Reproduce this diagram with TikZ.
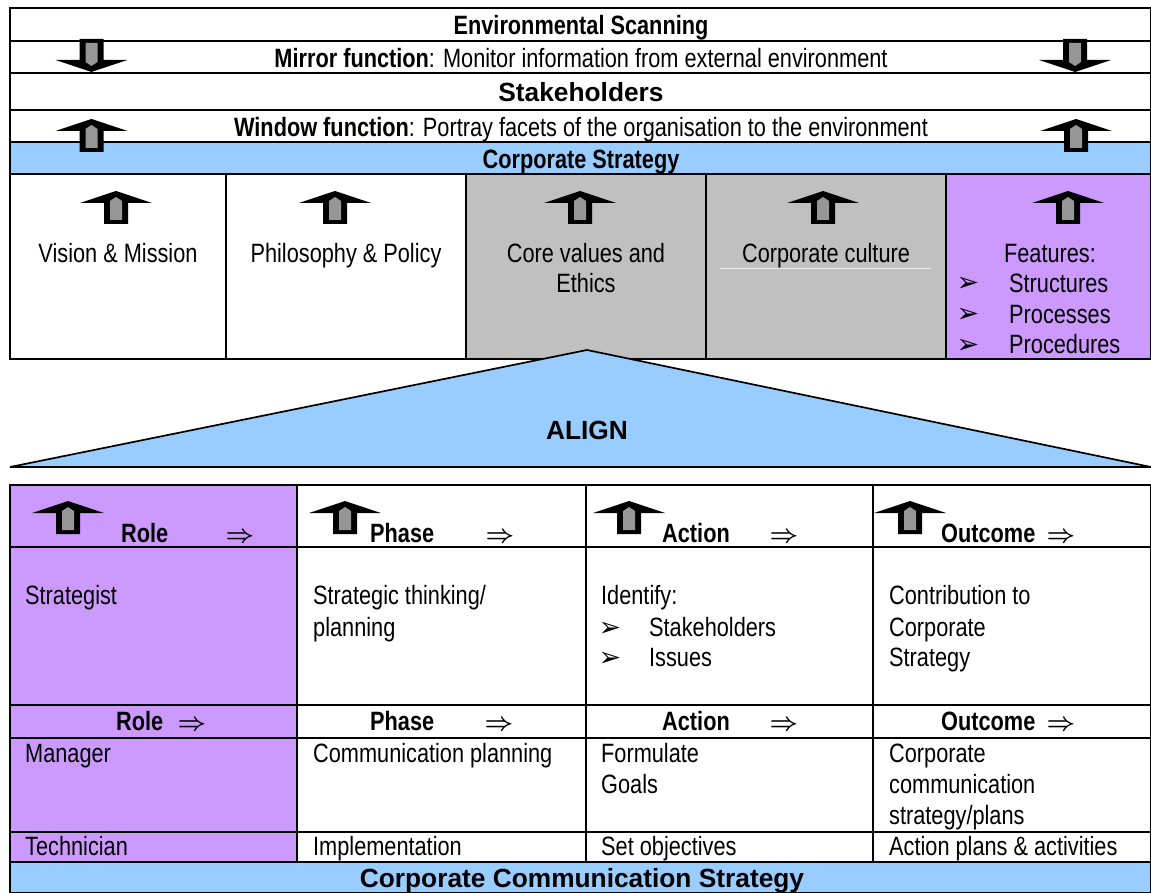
\documentclass[tikz,border=0pt]{standalone}
\usepackage{fontspec}
\setmainfont{Liberation Sans}[FakeStretch=0.82]
\newfontfamily\widefont{Liberation Sans}
\newfontfamily\dejavu{DejaVu Sans}
\definecolor{cpurple}{HTML}{CC99FF}
\definecolor{cblue}{HTML}{99CCFF}
\definecolor{cgray}{HTML}{C0C0C0}
\definecolor{agray}{HTML}{969696}
\newcommand\bulmark{{\dejavu\fontsize{27}{27}\selectfont ➢}}
\tikzset{
  cellline/.style={draw=black, line width=1.7pt},
  tx/.style={inner sep=0pt, font=\fontsize{26.5}{31}\selectfont, anchor=base west},
  tc/.style={tx, anchor=base},
  tb/.style={tx, font=\bfseries\fontsize{26.5}{31}\selectfont},
  tbc/.style={tb, anchor=base},
  hb/.style={inner sep=0pt, anchor=base, font=\widefont\bfseries\fontsize{26.3}{31}\selectfont},
  bul/.style={inner sep=0pt, anchor=base},
  rarr/.style={inner sep=0pt, anchor=base, font=\fontsize{29}{31}\selectfont\boldmath},
  pics/uparr/.style={code={
    \fill[black] (0,0) -- (36,12) -- (12,12) -- (12,33) -- (-12,33) -- (-12,12) -- (-36,12) -- cycle;
    \fill[agray] (-6,10) -- (0,6) -- (6,10) -- (6,29) -- (-6,29) -- cycle;
  }},
}
\begin{document}
\begin{tikzpicture}[x=1pt,y=-1pt]
\useasboundingbox (0,0) rectangle (1151,893);
\fill[white] (0,0) rectangle (1151,893);

% ---------- top table ----------
\fill[cblue] (10,142) rectangle (1151,174);
\fill[cgray] (466,174) rectangle (946,359);
\fill[cpurple] (946,174) rectangle (1151,359);
\draw[cellline] (10,8) rectangle (1151,359);
\foreach \yy in {41,73,110,142,174}
  \draw[cellline] (10,\yy) -- (1151,\yy);
\foreach \xx in {226,466,706,946}
  \draw[cellline] (\xx,174) -- (\xx,359);
\draw[white!92!black, line width=0.8pt] (720,268) -- (931,268);

\node[tbc] (env) at (581,34.5) {Environmental Scanning};
\node[tc] (mirror) at (581,67.5) {\textbf{Mirror function}: Monitor information from external environment};
\node[hb] (stake) at (581,101.5) {Stakeholders};
\node[tc] (window) at (581,136.5) {\textbf{Window function}: Portray facets of the organisation to the environment};
\node[tbc] (cstrat) at (581,168.5) {Corporate Strategy};

\pic[yscale=-1] at (91.5,72) {uparr};
\pic[yscale=-1] at (1075,72) {uparr};
\pic at (91.5,119) {uparr};
\pic at (1076,119) {uparr};

\foreach \xx in {116,335,580,823,1068}
  \pic at (\xx,191) {uparr};

\node[tc] (vm) at (118,262.5) {Vision \& Mission};
\node[tc] (pp) at (346,262.5) {Philosophy \& Policy};
\node[tc] (cv1) at (586,262.5) {Core values and};
\node[tc] (cv2) at (586,292.5) {Ethics};
\node[tc] (cc) at (826,262.5) {Corporate culture};
\node[tc] (feat) at (1050,262.5) {Features:};
\node[bul] (fb1) at (968,292) {\bulmark};
\node[bul] (fb2) at (968,323) {\bulmark};
\node[bul] (fb3) at (968,353) {\bulmark};
\node[tx] (f1) at (1009,292.5) {Structures};
\node[tx] (f2) at (1009,323.5) {Processes};
\node[tx] (f3) at (1009,353.5) {Procedures};

% ---------- align triangle ----------
\draw[cellline, fill=cblue] (10,467) -- (587,350) -- (1151,467) -- cycle;
\node[hb] (align) at (587,439.5) {ALIGN};

% ---------- bottom table ----------
\fill[cpurple] (10,485) rectangle (297,862);
\fill[cblue] (10,862) rectangle (1151,893);
\draw[cellline] (10,485) rectangle (1151,893);
\foreach \yy in {547,705,738,832,862}
  \draw[cellline] (10,\yy) -- (1151,\yy);
\foreach \xx in {297,586,873}
  \draw[cellline] (\xx,485) -- (\xx,862);

\pic at (68,501) {uparr};
\pic at (345,501) {uparr};
\pic at (629,501) {uparr};
\pic at (910,501) {uparr};

\node[tb] (h1) at (121,542.5) {Role};
\node[rarr] (h1a) at (240,542.5) {$\Rightarrow$};
\node[tb] (h2) at (370,542.5) {Phase};
\node[rarr] (h2a) at (500,542.5) {$\Rightarrow$};
\node[tb] (h3) at (662,542.5) {Action};
\node[rarr] (h3a) at (784,542.5) {$\Rightarrow$};
\node[tb] (h4) at (941,542.5) {Outcome};
\node[rarr] (h4a) at (1061,542.5) {$\Rightarrow$};

\node[tx] (s1) at (25,604.5) {Strategist};
\node[tx] (s2a) at (313,604.5) {Strategic thinking/};
\node[tx] (s2b) at (313,636.5) {planning};
\node[tx] (s3a) at (601,604.5) {Identify:};
\node[bul] (sb1) at (610,636) {\bulmark};
\node[bul] (sb2) at (610,666) {\bulmark};
\node[tx] (s3b) at (649,636.5) {Stakeholders};
\node[tx] (s3c) at (649,666.5) {Issues};
\node[tx] (s4a) at (889,604.5) {Contribution to};
\node[tx] (s4b) at (889,636.5) {Corporate};
\node[tx] (s4c) at (889,666.5) {Strategy};

\node[tb] (r1) at (116,730.5) {Role};
\node[rarr] (r1a) at (192,730.5) {$\Rightarrow$};
\node[tb] (r2) at (370,730.5) {Phase};
\node[rarr] (r2a) at (499,730.5) {$\Rightarrow$};
\node[tb] (r3) at (662,730.5) {Action};
\node[rarr] (r3a) at (784,730.5) {$\Rightarrow$};
\node[tb] (r4) at (941,730.5) {Outcome};
\node[rarr] (r4a) at (1061,730.5) {$\Rightarrow$};

\node[tx] (m1) at (25,762.5) {Manager};
\node[tx] (m2) at (313,762.5) {Communication planning};
\node[tx] (m3a) at (601,762.5) {Formulate};
\node[tx] (m3b) at (601,793.5) {Goals};
\node[tx] (m4a) at (889,762.5) {Corporate};
\node[tx] (m4b) at (889,793.5) {communication};
\node[tx] (m4c) at (889,824.5) {strategy/plans};

\node[tx] (t1) at (25,855.5) {Technician};
\node[tx] (t2) at (313,855.5) {Implementation};
\node[tx] (t3) at (601,855.5) {Set objectives};
\node[tx] (t4) at (889,855.5) {Action plans \& activities};

\node[hb] (ccs) at (582,887.5) {Corporate Communication Strategy};
\end{tikzpicture}
\end{document}
